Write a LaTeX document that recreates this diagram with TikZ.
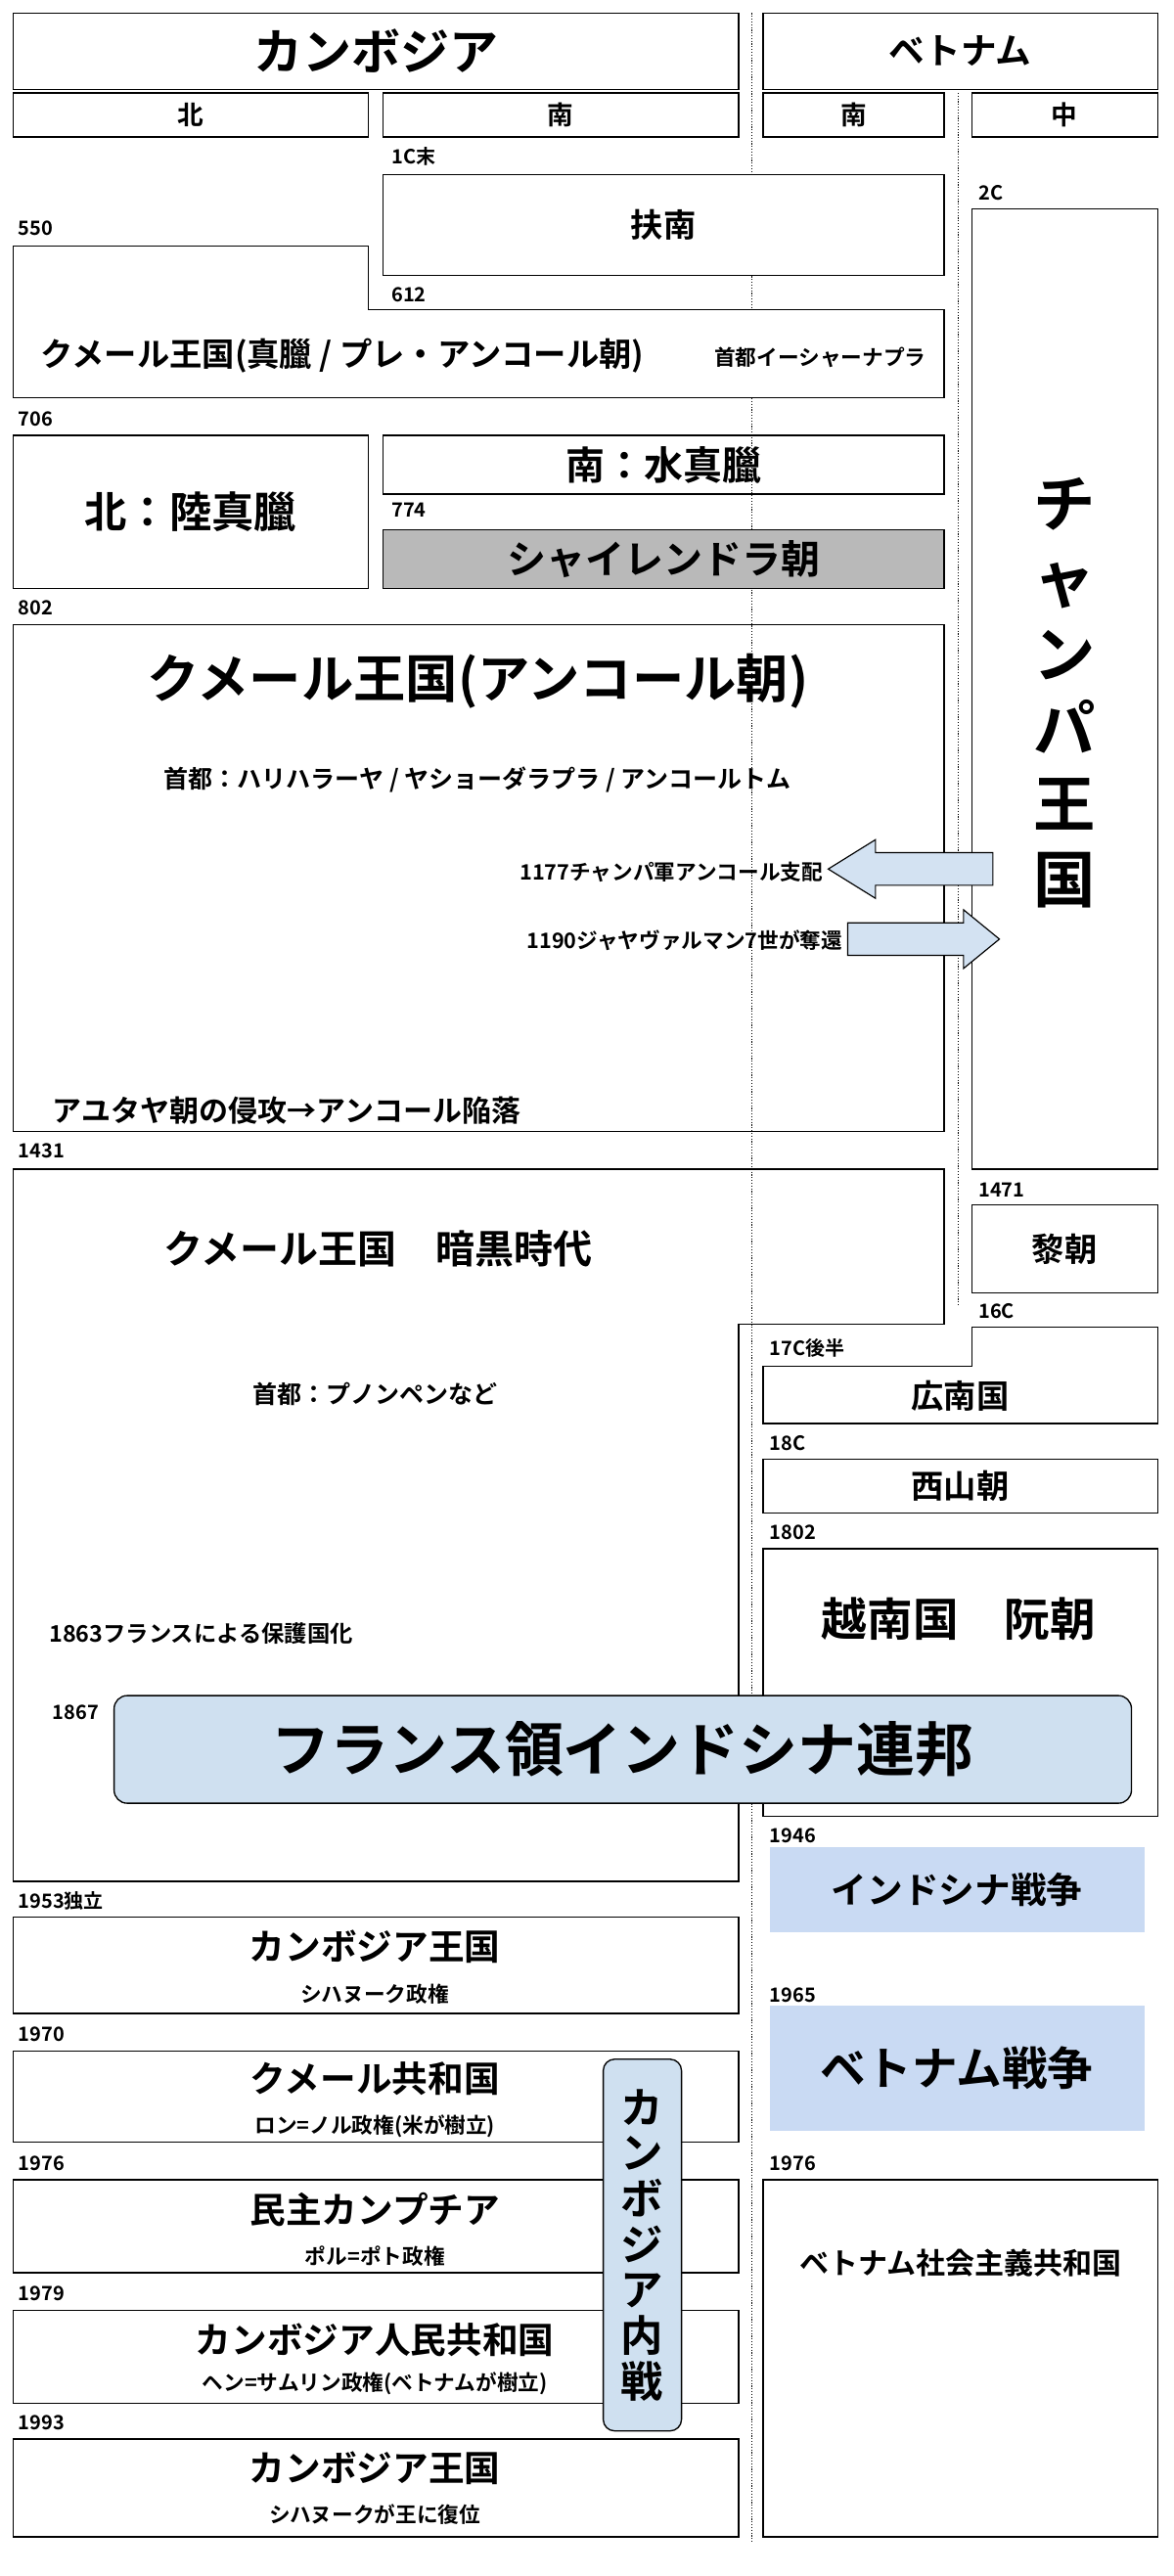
\documentclass[tikz,border=0pt]{standalone}
\usepackage{fontspec}
\setmainfont{Noto Sans CJK JP}[BoldFont={Noto Sans CJK JP Bold}]
\newcommand{\fs}[1]{\fontsize{#1}{#1}\selectfont}
\begin{document}
\begin{tikzpicture}[x=1pt,y=-1pt,font=\bfseries,
  bx/.style={draw,line width=0.8pt},
  yr/.style={anchor=west,inner sep=0pt,font=\bfseries\fs{12}},
  txt/.style={inner sep=0pt,align=center},
  dot/.style={densely dotted,line width=0.7pt},
  arr/.style={draw,fill=arrowfill,line width=0.7pt,line join=miter}]
\definecolor{arrowfill}{HTML}{D3E2F2}
\definecolor{lblue}{HTML}{CFE0F0}
\definecolor{wblue}{HTML}{C9DAF3}
\path[use as bounding box,fill=white] (0,0) rectangle (720,1580);
% dotted lines
\coordinate (d1t) at (461,8); \coordinate (d1b) at (461,1560);
\coordinate (d2t) at (588,57); \coordinate (d2b) at (588,800);
\draw[dot] (d1t)--(d1b); \draw[dot] (d2t)--(d2b);
% headers
\node[bx,minimum width=445pt,minimum height=47pt] (hc) at (230.5,31.5) {\fs{30}カンボジア};
\node[bx,minimum width=242pt,minimum height=47pt] (hv) at (589,31.5) {\fs{22}ベトナム};
\node[bx,minimum width=218pt,minimum height=27pt] (hn) at (117,70.5) {\fs{16}北};
\node[bx,minimum width=218pt,minimum height=27pt] (hs) at (344,70.5) {\fs{16}南};
\node[bx,minimum width=111pt,minimum height=27pt] (hvs) at (523.5,70.5) {\fs{16}南};
\node[bx,minimum width=114pt,minimum height=27pt] (hvc) at (653,70.5) {\fs{16}中};
% Funan
\node[yr] (l1) at (240,96) {1C末};
\node[bx,fill=white,minimum width=344pt,minimum height=62pt] (funan) at (407,138) {\fs{20}扶南};
\node[yr] (l2) at (600,118) {2C};
\node[bx,fill=white,minimum width=114pt,minimum height=589pt] (champa) at (653,422.5) {};
\node[txt,font=\bfseries\fs{38}] (champat) at (653,425) {チ\\[8pt]ャ\\[8pt]ン\\[8pt]パ\\[8pt]王\\[8pt]国};
% pre-Angkor
\node[yr] (l3) at (11,140) {550};
\draw[bx,fill=white] (8,151)--(226,151)--(226,190)--(579,190)--(579,244)--(8,244)--cycle;
\node[yr] (l4) at (240,181) {612};
\node[txt] (pre) at (210,218) {\fs{20}クメール王国(真臘 / プレ・アンコール朝)};
\node[txt] (pre2) at (503,219) {\fs{13}首都イーシャーナプラ};
% 706
\node[yr] (l5) at (11,257) {706};
\node[bx,minimum width=218pt,minimum height=94pt] (lu) at (117,314) {\fs{26}北：陸真臘};
\node[bx,minimum width=344pt,minimum height=36pt] (sui) at (407,285) {\fs{24}南：水真臘};
\node[yr] (l6) at (240,313) {774};
\node[bx,fill=gray!55,minimum width=344pt,minimum height=36pt] (sai) at (407,343) {\fs{24}シャイレンドラ朝};
% Angkor
\node[yr] (l7) at (11,373) {802};
\node[bx,minimum width=571pt,minimum height=311pt] (ang) at (293.5,538.5) {};
\node[txt] (angt) at (293,418) {\fs{32}クメール王国(アンコール朝)};
\node[txt] (angc) at (293,478) {\fs{15}首都：ハリハラーヤ / ヤショーダラプラ / アンコールトム};
\coordinate (a1tip) at (508,533);
\draw[arr] (a1tip)--++(29,-18)--++(0,8)--++(72,0)--++(0,20)--++(-72,0)--++(0,8)--cycle;
\node[txt,anchor=east] (a1t) at (505,535) {\fs{13}1177チャンパ軍アンコール支配};
\coordinate (a2tip) at (613,576);
\draw[arr] (a2tip)--++(-22,-18)--++(0,8)--++(-71,0)--++(0,20)--++(71,0)--++(0,8)--cycle;
\node[txt,anchor=east] (a2t) at (517,577) {\fs{13}1190ジャヤヴァルマン7世が奪還};
\node[txt,anchor=west] (ayu) at (32,681) {\fs{18}アユタヤ朝の侵攻→アンコール陥落};
% dark age
\node[yr] (l8) at (11,706) {1431};
\draw[bx] (8,717)--(579,717)--(579,812)--(453,812)--(453,1154)--(8,1154)--cycle;
\node[txt] (dark) at (232,766) {\fs{24}クメール王国　暗黒時代};
\node[txt] (darkc) at (230,855) {\fs{15}首都：プノンペンなど};
\node[txt,anchor=west] (prot) at (30,1002) {\fs{14}1863フランスによる保護国化};
% Vietnam south
\node[yr] (l9) at (600,730) {1471};
\node[bx,minimum width=114pt,minimum height=54pt] (le) at (653,766) {\fs{20}黎朝};
\node[yr] (l10) at (600,804) {16C};
\draw[bx] (596,814)--(710,814)--(710,873)--(468,873)--(468,838)--(596,838)--cycle;
\node[yr] (l11) at (472,827) {17C後半};
\node[txt] (qn) at (589,856) {\fs{20}広南国};
\node[yr] (l12) at (472,885) {18C};
\node[bx,minimum width=242pt,minimum height=33pt] (ts) at (589,911.5) {\fs{20}西山朝};
\node[yr] (l13) at (472,940) {1802};
\node[bx,minimum width=242pt,minimum height=164pt] (nguyen) at (589,1032) {};
\node[txt] (ngt) at (588,993) {\fs{28}越南国　阮朝};
% French
\node[yr] (l14) at (32,1050) {1867};
\node[draw,line width=0.8pt,fill=lblue,rounded corners=8pt,minimum width=624pt,minimum height=66pt] (fr) at (382,1073) {\fs{36}フランス領インドシナ連邦};
% wars
\node[yr] (l15) at (472,1126) {1946};
\node[fill=wblue,minimum width=230pt,minimum height=52pt] (iw) at (587,1159) {\fs{22}インドシナ戦争};
\node[yr] (l16) at (472,1224) {1965};
\node[fill=wblue,minimum width=230pt,minimum height=77pt] (vw) at (587,1268.5) {\fs{28}ベトナム戦争};
\node[yr] (l17) at (472,1327) {1976};
\node[bx,minimum width=242pt,minimum height=219pt] (srv) at (589,1446.5) {};
\node[txt] (srvt) at (589,1388) {\fs{18}ベトナム社会主義共和国};
% Cambodia modern
\node[yr] (m1) at (11,1166) {1953独立};
\node[bx,minimum width=445pt,minimum height=59pt] (k1) at (230.5,1205.5) {};
\node[txt] (k1a) at (230,1194) {\fs{22}カンボジア王国};
\node[txt] (k1b) at (230,1223) {\fs{13}シハヌーク政権};
\node[yr] (m2) at (11,1248) {1970};
\node[bx,minimum width=445pt,minimum height=56pt] (k2) at (230.5,1286) {};
\node[txt] (k2a) at (230,1275) {\fs{22}クメール共和国};
\node[txt] (k2b) at (230,1304) {\fs{13}ロン=ノル政権(米が樹立)};
\node[yr] (m3) at (11,1327) {1976};
\node[bx,minimum width=445pt,minimum height=57pt] (k3) at (230.5,1365.5) {};
\node[txt] (k3a) at (230,1355) {\fs{22}民主カンプチア};
\node[txt] (k3b) at (230,1384) {\fs{13}ポル=ポト政権};
\node[yr] (m4) at (11,1407) {1979};
\node[bx,minimum width=445pt,minimum height=57pt] (k4) at (230.5,1445.5) {};
\node[txt] (k4a) at (230,1435) {\fs{22}カンボジア人民共和国};
\node[txt] (k4b) at (230,1462) {\fs{13}ヘン=サムリン政権(ベトナムが樹立)};
\node[yr] (m5) at (11,1486) {1993};
\node[bx,minimum width=445pt,minimum height=60pt] (k5) at (230.5,1526) {};
\node[txt] (k5a) at (230,1514) {\fs{22}カンボジア王国};
\node[txt] (k5b) at (230,1542) {\fs{13}シハヌークが王に復位};
\node[draw,line width=0.8pt,fill=lblue,rounded corners=7pt,minimum width=48pt,minimum height=228pt,align=center,inner sep=0pt,font=\bfseries\fs{26}] (cw) at (394,1377) {カ\\[2pt]ン\\[2pt]ボ\\[2pt]ジ\\[2pt]ア\\[2pt]内\\[2pt]戦};
\end{tikzpicture}
\end{document}
